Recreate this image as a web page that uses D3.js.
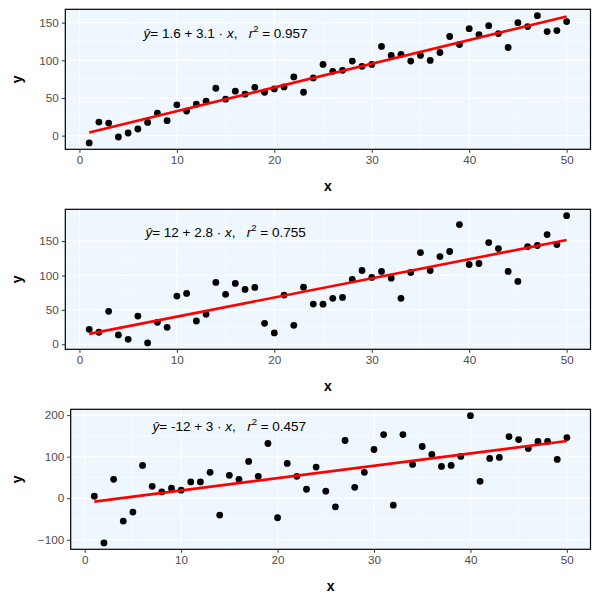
<!DOCTYPE html>
<html>
<head>
<meta charset="utf-8">
<script src="https://cdn.jsdelivr.net/npm/d3@7"></script>
<style>
  body { margin: 0; background: #fff; }
  svg { display: block; font-family: "Liberation Sans", Arial, sans-serif; }
  .eq { white-space: pre; }
</style>
</head>
<body>
<svg id="chart" width="600" height="600"></svg>
<script>
const xValues = d3.range(1, 51);

const series1 = [-9.7, 18, 16.7, -1.8, 3.5, 8.8, 17.6, 29.9, 19.8, 40.9,
  32.6, 41.8, 45.8, 62.9, 48.4, 59, 55, 64.2, 57.6, 62,
  64.7, 77.9, 57.6, 76.6, 94.6, 85.4, 86.7, 99, 92, 94.6,
  118.4, 106.5, 107.8, 99, 106.5, 99.9, 110.4, 131.6, 121, 142,
  134.2, 146, 135.5, 117, 150, 144.8, 159.3, 138.2, 139.5, 151.4];

const series2 = [21.7, 17.4, 47.8, 13.5, 7.2, 41, 1.9, 31.9, 24.6, 70,
  73.9, 33.8, 43.5, 89.8, 72.5, 88.4, 79.7, 82.6, 30.4, 16.4,
  71.5, 27.5, 83, 58.4, 58.2, 66.7, 68.1, 94.2, 107.2, 97.1,
  105.8, 96.1, 66.7, 104.3, 133.3, 107.2, 127.5, 134.8, 173.9, 115.9,
  117.4, 147.8, 139.1, 105.8, 91.3, 142, 143.5, 159.4, 144.9, 186.9];

const series3 = [4.8, -107.7, 45.5, -55, -33.5, 79, 28.7, 15.2, 23.9, 19.2,
  39.1, 39.1, 62.2, -40.7, 55, 45.5, 88.6, 52.7, 131.7, -47.1,
  83.8, 52.7, 21.5, 75, 16.8, -20.7, 138.9, 26.3, 62.2, 117.3,
  153.2, -16.8, 153.2, 81.4, 124.5, 105.3, 76.6, 79, 100.5, 198.7,
  40.7, 95.8, 98.2, 148.4, 141.2, 119.7, 136.5, 136.5, 93.4, 146];

const xTicks = [0, 10, 20, 30, 40, 50];
const yTicks1 = [0, 50, 100, 150];
const yTicks2 = [0, 50, 100, 150];
const yTicks3 = [-100, 0, 100, 200];

const eqIntercepts = ["1.6", "12", "-12"];
const eqSlopes = ["3.1", "2.8", "3"];
const eqR2 = ["0.957", "0.755", "0.457"];

const panels = [
  { y: series1, ticks: yTicks1, left: 65.3, labelY: 136 },
  { y: series2, ticks: yTicks2, left: 65.3, labelY: 163 },
  { y: series3, ticks: yTicks3, left: 70.7, labelY: 173 }
];

const svg = d3.select("#chart");

function midpoints(t) {
  const m = [];
  for (let i = 0; i < t.length - 1; i++) m.push((t[i] + t[i + 1]) / 2);
  return m;
}

function expand(ext) {
  const pad = (ext[1] - ext[0]) * 0.05;
  return [ext[0] - pad, ext[1] + pad];
}

function linreg(xs, ys) {
  const mx = d3.mean(xs), my = d3.mean(ys);
  let sxy = 0, sxx = 0;
  xs.forEach((x, i) => { sxy += (x - mx) * (ys[i] - my); sxx += (x - mx) * (x - mx); });
  const b = sxy / sxx;
  return { a: my - b * mx, b: b };
}

panels.forEach((p, i) => {
  const T = i * 200;
  const top = T + 9.3, bottom = T + 149.3;
  const left = p.left, right = 590.5;
  const g = svg.append("g");

  const x = d3.scaleLinear().domain(expand(d3.extent(xValues))).range([left, right]);
  const y = d3.scaleLinear().domain(expand(d3.extent(p.y))).range([bottom, top]);

  g.append("rect").attr("x", left).attr("y", top)
    .attr("width", right - left).attr("height", bottom - top)
    .attr("fill", "#EEF6FE");

  midpoints(xTicks).forEach(v => {
    g.append("line").attr("x1", x(v)).attr("x2", x(v)).attr("y1", top).attr("y2", bottom)
      .attr("stroke", "#fff").attr("stroke-width", 0.6);
  });
  midpoints(p.ticks).forEach(v => {
    g.append("line").attr("y1", y(v)).attr("y2", y(v)).attr("x1", left).attr("x2", right)
      .attr("stroke", "#fff").attr("stroke-width", 0.6);
  });
  xTicks.forEach(v => {
    g.append("line").attr("x1", x(v)).attr("x2", x(v)).attr("y1", top).attr("y2", bottom)
      .attr("stroke", "#fff").attr("stroke-width", 1.2);
  });
  p.ticks.forEach(v => {
    g.append("line").attr("y1", y(v)).attr("y2", y(v)).attr("x1", left).attr("x2", right)
      .attr("stroke", "#fff").attr("stroke-width", 1.2);
  });

  g.append("g").selectAll("circle").data(xValues).join("circle")
    .attr("cx", d => x(d)).attr("cy", (d, k) => y(p.y[k]))
    .attr("r", 3.4).attr("fill", "#000");

  const fit = linreg(xValues, p.y);
  const xr = d3.extent(xValues);
  g.append("line")
    .attr("x1", x(xr[0])).attr("y1", y(fit.a + fit.b * xr[0]))
    .attr("x2", x(xr[1])).attr("y2", y(fit.a + fit.b * xr[1]))
    .attr("stroke", "#FF0000").attr("stroke-width", 2.6);

  const t = g.append("text").attr("class", "eq")
    .attr("x", x(15)).attr("y", y(p.labelY) + 4.5)
    .attr("text-anchor", "middle")
    .attr("font-size", 13.5).attr("fill", "#000");
  t.append("tspan").attr("font-style", "italic").text("ŷ");
  t.append("tspan").text("= " + eqIntercepts[i] + " + " + eqSlopes[i] + " · ");
  t.append("tspan").attr("font-style", "italic").text("x");
  t.append("tspan").text(",   ");
  t.append("tspan").attr("font-style", "italic").text("r");
  t.append("tspan").attr("font-size", 9.5).attr("dy", -5.5).text("2");
  t.append("tspan").attr("dy", 5.5).text(" = " + eqR2[i]);

  g.append("rect").attr("x", left).attr("y", top)
    .attr("width", right - left).attr("height", bottom - top)
    .attr("fill", "none").attr("stroke", "#000").attr("stroke-width", 1.2);

  const xAxis = d3.axisBottom(x).tickValues(xTicks).tickSize(3.5).tickPadding(3);
  const ax = g.append("g").attr("transform", `translate(0,${bottom})`).call(xAxis);
  const yAxis = d3.axisLeft(y).tickValues(p.ticks).tickSize(3.5).tickPadding(3);
  const ay = g.append("g").attr("transform", `translate(${left},0)`).call(yAxis);
  [ax, ay].forEach(a => {
    a.select(".domain").remove();
    a.selectAll(".tick line").attr("stroke", "#333").attr("stroke-width", 1);
    a.selectAll(".tick text").attr("fill", "#4D4D4D").attr("font-size", 11.7)
      .attr("font-family", "'Liberation Sans', Arial, sans-serif");
  });

  g.append("text").attr("x", (left + right) / 2).attr("y", T + 191)
    .attr("text-anchor", "middle").attr("font-size", 14).attr("font-weight", "bold")
    .attr("fill", "#000").text("x");
  g.append("text")
    .attr("transform", `translate(22,${(top + bottom) / 2}) rotate(-90)`)
    .attr("text-anchor", "middle").attr("font-size", 14).attr("font-weight", "bold")
    .attr("fill", "#000").text("y");
});
</script>
</body>
</html>
